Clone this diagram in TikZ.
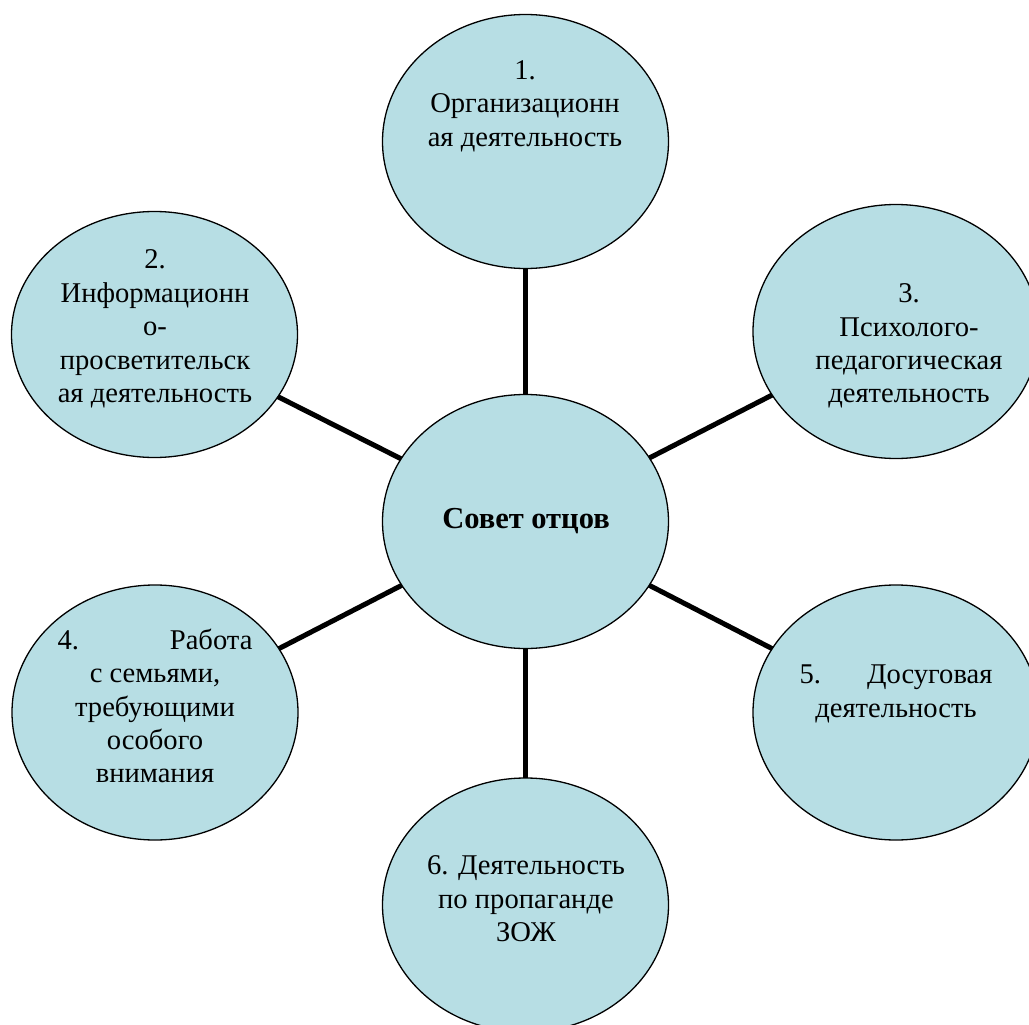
\documentclass[tikz,border=0pt]{standalone}
\usepackage{fontspec}
\setmainfont{Liberation Serif}
\usetikzlibrary{shapes.geometric}
\definecolor{petalblue}{RGB}{183,222,228}
\begin{document}
\begin{tikzpicture}[x=1pt,y=1pt,
  petal/.style={ellipse,draw=black,line width=1.3pt,fill=petalblue,inner sep=0pt,outer sep=0pt,minimum width=286pt,minimum height=254pt},
  txt/.style={align=center,inner sep=0pt,font=\fontsize{28.6}{33.4}\selectfont},
  link/.style={line width=5pt}]
\useasboundingbox (0,0) rectangle (1029,-1025);
\clip (0,0) rectangle (1029,-1025);
\node [petal] (sovet) at (525.5,-521.5) {};
\node [petal] (org) at (525.5,-141.5) {};
\node [petal,minimum height=246pt] (inf) at (154.5,-334.5) {};
\node [petal] (psy) at (896,-331.5) {};
\node [petal,minimum height=255pt] (sem) at (155,-712.5) {};
\node [petal,minimum height=255pt] (dos) at (896,-712.5) {};
\node [petal] (zoj) at (525.5,-905) {};
\draw [link] (sovet) -- (org);
\draw [link] (sovet) -- (inf);
\draw [link] (sovet) -- (psy);
\draw [link] (sovet) -- (sem);
\draw [link] (sovet) -- (dos);
\draw [link] (sovet) -- (zoj);
\node [txt,font=\fontsize{30.5}{33.4}\selectfont\bfseries,anchor=base] (sovet-t) at (526,-528) {Совет отцов};
\node [txt] (org-t) at (525,-106) {1.\\Организационн\\ая деятельность};
\node [txt] (inf-t) at (155,-329) {2.\\Информационн\\о-\\просветительск\\ая деятельность};
\node [txt] (psy-t) at (909,-346) {3.\\Психолого-\\педагогическая\\деятельность};
\node [txt] (sem-t) at (155,-706) {\makebox[195pt]{4.\hfill Работа}\\с семьями,\\требующими\\особого\\внимания};
\node [txt] (dos-t) at (896,-694) {\makebox[193pt]{5.\hfill Досуговая}\\деятельность};
\node [txt] (zoj-t) at (526,-899) {6. Деятельность\\по пропаганде\\ЗОЖ};
\end{tikzpicture}
\end{document}
